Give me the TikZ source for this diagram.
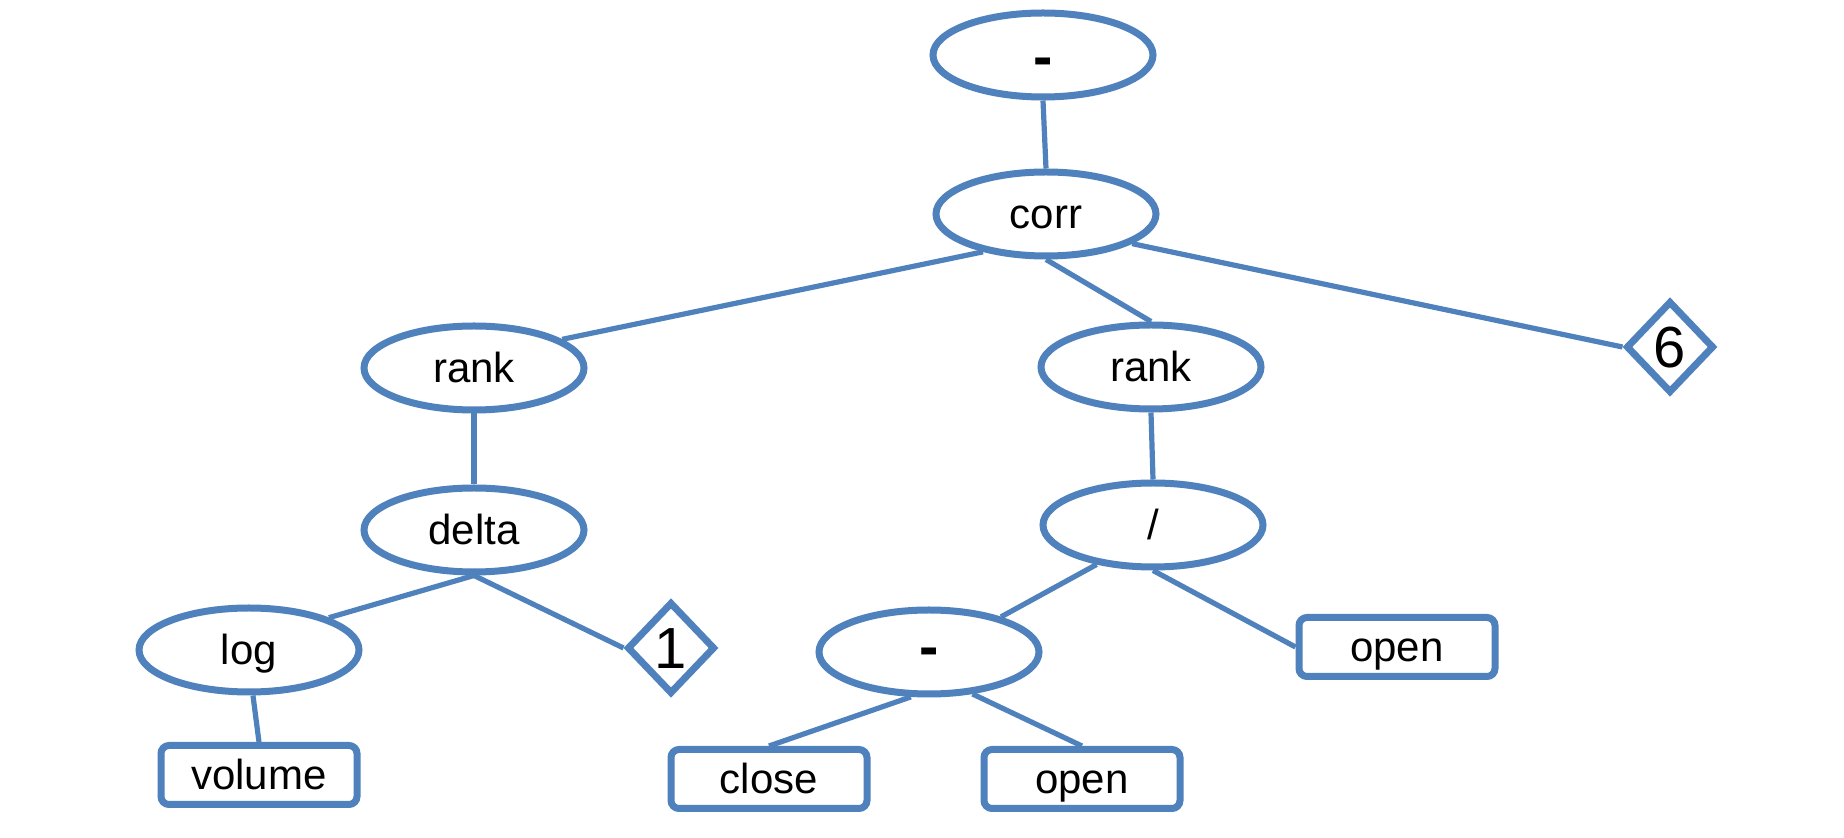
\documentclass[tikz,border=0pt]{standalone}
\usepackage{fontspec}
\setmainfont{Liberation Sans}
\usetikzlibrary{shapes.geometric}
\definecolor{nodeblue}{RGB}{79,129,189}
\begin{document}
\begin{tikzpicture}[x=0.5pt,y=-0.5pt,
  base/.style={draw=nodeblue, line width=3.5pt, fill=white, inner sep=0pt,
    text height=15pt, text depth=0pt, font=\fontsize{21}{25}\selectfont},
  oval/.style={base, ellipse, minimum width=110pt, minimum height=42pt},
  leaf/.style={base, rectangle, rounded corners=4pt, minimum width=98pt, minimum height=29.5pt},
  const/.style={base, diamond, minimum width=44pt, minimum height=46pt,
    text height=21pt, font=\fontsize{29}{34}\selectfont},
  bigdash/.style={font=\fontsize{29}{34}\selectfont\bfseries},
  link/.style={draw=nodeblue, line width=2.6pt}]
\useasboundingbox[fill=white] (0,0) rectangle (1844,838);

\node[oval, bigdash, text height=22pt] (top)    at (1043,55)  {-};
\node[oval]                           (corr)   at (1046,214) {corr};
\node[oval]                           (rankL)  at (474,368)  {rank};
\node[oval]                           (rankR)  at (1151,367) {rank};
\node[const]                          (six)    at (1670,347) {6};
\node[oval]                           (delta)  at (474,530)  {delta};
\node[oval]                           (slash)  at (1153,525) {/};
\node[oval]                           (log)    at (249,650)  {log};
\node[const]                          (one)    at (671,648)  {1};
\node[oval, bigdash]                  (minus)  at (929,652)  {-};
\node[leaf]                           (openR)  at (1397,647) {open};
\node[leaf]                           (volume) at (259,775)  {volume};
\node[leaf]                           (close)  at (769,779)  {close};
\node[leaf]                           (openB)  at (1082,779) {open};

\draw[link] (top.south) -- (corr.north);
\draw[link] (corr.211) -- (rankL.18);
\draw[link] (corr.south) -- (rankR.north);
\draw[link] (corr.-19) -- (six.west);
\draw[link] (rankL.south) -- (delta.north);
\draw[link] (rankR.south) -- (slash.north);
\draw[link] (delta.south) -- (log.22);
\draw[link] (delta.south) -- (one.west);
\draw[link] (slash.215) -- (minus.26);
\draw[link] (slash.south) -- (openR.west);
\draw[link] (log.-85) -- (volume.north);
\draw[link] (minus.248) -- (close.north);
\draw[link] (minus.-44) -- (openB.north);
\end{tikzpicture}
\end{document}
